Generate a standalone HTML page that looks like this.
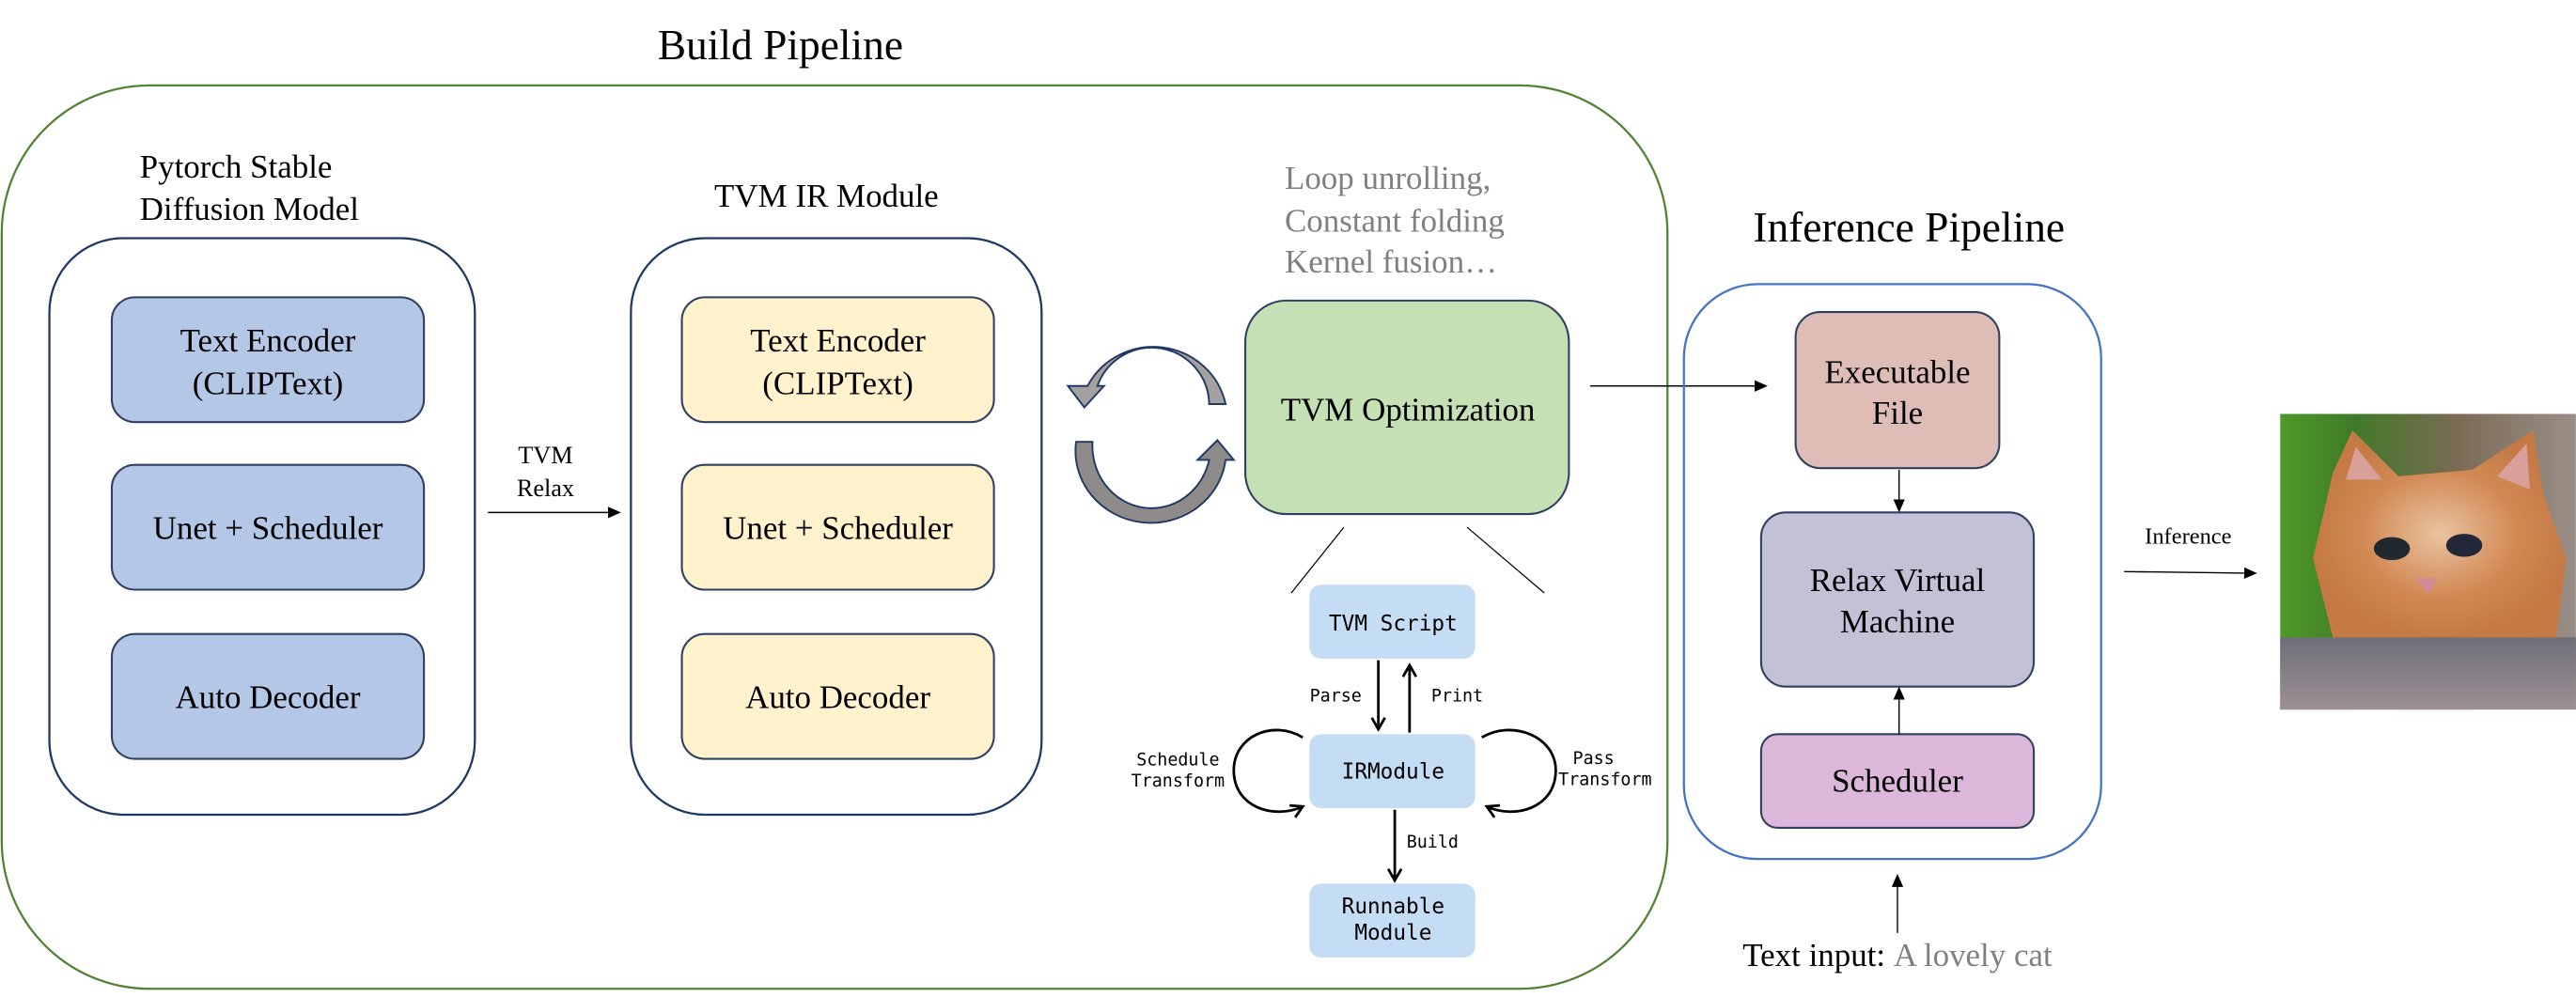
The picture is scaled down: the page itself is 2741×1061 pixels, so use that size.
<!DOCTYPE html>
<html><head><meta charset="utf-8"><style>
html,body{margin:0;padding:0;background:#fff;}
svg{display:block;}
.s{font-family:"Liberation Serif",serif;}
.m{font-family:"DejaVu Sans Mono","Liberation Mono",monospace;}
</style></head><body>
<svg width="2741" height="1061" viewBox="0 0 1568 607" xmlns="http://www.w3.org/2000/svg">
<defs>
<marker id="ah" markerWidth="8" markerHeight="8" refX="7" refY="4" orient="auto" markerUnits="userSpaceOnUse"><path d="M0,0.5 L8,4 L0,7.5 Z" fill="#000"/></marker>
<marker id="ab" markerWidth="10" markerHeight="10" refX="8" refY="5" orient="auto" markerUnits="userSpaceOnUse"><path d="M1,1 L8,5 L1,9" fill="none" stroke="#000" stroke-width="1.6"/></marker>
<linearGradient id="bg" x1="0" x2="1" y1="0" y2="0"><stop offset="0" stop-color="#4f9a2a"/><stop offset="0.25" stop-color="#3f7a28"/><stop offset="0.6" stop-color="#7b6a55"/><stop offset="1" stop-color="#9a8f88"/></linearGradient>
<radialGradient id="cat" cx="0.5" cy="0.5" r="0.5"><stop offset="0" stop-color="#e9c3a0"/><stop offset="0.6" stop-color="#d28a55"/><stop offset="1" stop-color="#c57a45"/></radialGradient>
<linearGradient id="tb" x1="0" x2="0" y1="0" y2="1"><stop offset="0" stop-color="#6e6f78"/><stop offset="1" stop-color="#9b9094"/></linearGradient>
</defs>

<!-- Build pipeline -->
<text x="475" y="36" class="s" font-size="26" text-anchor="middle">Build Pipeline</text>
<rect x="1" y="52" width="1014" height="550" rx="90" ry="90" fill="none" stroke="#548235" stroke-width="1.3"/>

<!-- left module -->
<text x="85" y="108" class="s" font-size="20">Pytorch Stable</text>
<text x="85" y="134" class="s" font-size="20">Diffusion Model</text>
<rect x="30" y="145" width="259" height="351" rx="45" fill="none" stroke="#1f3864" stroke-width="1.3"/>
<g fill="#b4c7e7" stroke="#2f4060" stroke-width="1.2">
<rect x="68" y="181" width="190" height="76" rx="14"/>
<rect x="68" y="283" width="190" height="76" rx="14"/>
<rect x="68" y="386" width="190" height="76" rx="14"/>
</g>
<g class="s" font-size="20" text-anchor="middle">
<text x="163" y="214">Text Encoder</text><text x="163" y="240">(CLIPText)</text>
<text x="163" y="328">Unet + Scheduler</text>
<text x="163" y="431">Auto Decoder</text>
</g>

<text x="332" y="282" class="s" font-size="15" text-anchor="middle">TVM</text>
<text x="332" y="302" class="s" font-size="15" text-anchor="middle">Relax</text>
<line x1="297" y1="312" x2="377" y2="312" stroke="#000" stroke-width="0.9" marker-end="url(#ah)"/>

<!-- middle module -->
<text x="503" y="126" class="s" font-size="20" text-anchor="middle">TVM IR Module</text>
<rect x="384" y="145" width="250" height="351" rx="45" fill="none" stroke="#1f3864" stroke-width="1.3"/>
<g fill="#fff2cc" stroke="#2f4060" stroke-width="1.2">
<rect x="415" y="181" width="190" height="76" rx="14"/>
<rect x="415" y="283" width="190" height="76" rx="14"/>
<rect x="415" y="386" width="190" height="76" rx="14"/>
</g>
<g class="s" font-size="20" text-anchor="middle">
<text x="510" y="214">Text Encoder</text><text x="510" y="240">(CLIPText)</text>
<text x="510" y="328">Unet + Scheduler</text>
<text x="510" y="431">Auto Decoder</text>
</g>

<!-- circular arrows -->
<path d="M746,246 A45,44 0 0 0 662,235 L650,235 L660,248 L672,235 L668,235 A35,35 0 0 1 736,246 Z" fill="#a6a1a1" stroke="#1f3864" stroke-width="1.1"/>
<path d="M655,269 L665,269 A36,38 0 0 0 736,280 L729,280 L741,268 L751,280 L746,280 A45,43 0 0 1 655,269 Z" fill="#8f8b8b" stroke="#1f3864" stroke-width="1.1"/>

<!-- TVM optimization -->
<g class="s" font-size="20" fill="#808080">
<text x="782" y="115">Loop unrolling,</text>
<text x="782" y="141">Constant folding</text>
<text x="782" y="166">Kernel fusion…</text>
</g>
<rect x="758" y="183" width="197" height="130" rx="25" fill="#c5e0b4" stroke="#2f4060" stroke-width="1.2"/>
<text x="857" y="256" class="s" font-size="20" text-anchor="middle">TVM Optimization</text>
<line x1="818" y1="321" x2="786" y2="361" stroke="#000" stroke-width="0.7"/>
<line x1="893" y1="321" x2="940" y2="361" stroke="#000" stroke-width="0.7"/>

<g fill="#c5dcf5">
<rect x="797" y="356" width="101" height="45" rx="7"/>
<rect x="797" y="447" width="101" height="45" rx="7"/>
<rect x="797" y="538" width="101" height="45" rx="7"/>
</g>
<g class="m" text-anchor="middle" font-size="13">
<text x="848" y="384">TVM Script</text>
<text x="848" y="474">IRModule</text>
<text x="848" y="556">Runnable</text>
<text x="848" y="572">Module</text>
</g>
<g stroke="#000" stroke-width="1.6" fill="none">
<line x1="839" y1="402" x2="839" y2="444" marker-end="url(#ab)"/>
<line x1="858" y1="446" x2="858" y2="405" marker-end="url(#ab)"/>
<line x1="849" y1="493" x2="849" y2="536" marker-end="url(#ab)"/>
<path d="M902,449 C920,438 947,448 947,469 C947,492 922,499 905,491" marker-end="url(#ab)"/>
<path d="M793,449 C775,438 751,448 751,469 C751,492 776,499 793,491" marker-end="url(#ab)"/>
</g>
<g class="m" font-size="10.5" text-anchor="middle">
<text x="813" y="427">Parse</text>
<text x="887" y="427">Print</text>
<text x="872" y="516">Build</text>
<text x="717" y="466">Schedule</text>
<text x="717" y="479">Transform</text>
<text x="970" y="465">Pass</text>
<text x="977" y="478">Transform</text>
</g>

<!-- arrow to inference -->
<line x1="968" y1="235" x2="1075" y2="235" stroke="#000" stroke-width="0.9" marker-end="url(#ah)"/>

<!-- Inference pipeline -->
<text x="1162" y="147" class="s" font-size="26" text-anchor="middle">Inference Pipeline</text>
<rect x="1025" y="173" width="254" height="350" rx="45" fill="none" stroke="#4472c4" stroke-width="1.3"/>
<rect x="1093" y="190" width="124" height="95" rx="15" fill="#dfbdb7" stroke="#2f4060" stroke-width="1.2"/>
<rect x="1072" y="312" width="166" height="106" rx="15" fill="#c3c1d6" stroke="#2f4060" stroke-width="1.2"/>
<rect x="1072" y="447" width="166" height="57" rx="10" fill="#ddb7d9" stroke="#2f4060" stroke-width="1.2"/>
<g class="s" font-size="20" text-anchor="middle">
<text x="1155" y="233">Executable</text><text x="1155" y="258">File</text>
<text x="1155" y="360">Relax Virtual</text><text x="1155" y="385">Machine</text>
<text x="1155" y="482">Scheduler</text>
</g>
<line x1="1156" y1="286" x2="1156" y2="311" stroke="#000" stroke-width="0.8" marker-end="url(#ah)"/>
<line x1="1156" y1="447" x2="1156" y2="419" stroke="#000" stroke-width="0.8" marker-end="url(#ah)"/>
<line x1="1155" y1="568" x2="1155" y2="533" stroke="#000" stroke-width="0.8" marker-end="url(#ah)"/>
<text x="1155" y="588" class="s" font-size="20" text-anchor="middle">Text input: <tspan fill="#808080">A lovely cat</tspan></text>

<text x="1332" y="331" class="s" font-size="14" text-anchor="middle">Inference</text>
<line x1="1293" y1="348" x2="1373" y2="349" stroke="#000" stroke-width="0.8" marker-end="url(#ah)"/>

<!-- cat image -->
<rect x="1388" y="252" width="180" height="180" fill="url(#bg)"/>
<rect x="1388" y="388" width="180" height="44" fill="url(#tb)"/>
<path d="M1420,288 L1432,262 L1460,290 L1505,286 L1542,262 L1548,300 L1562,340 L1556,388 L1420,388 L1408,340 Z" fill="url(#cat)"/>
<path d="M1428,292 L1434,272 L1450,292 Z" fill="#d9a09a"/>
<path d="M1520,290 L1538,270 L1540,298 Z" fill="#d9a09a"/>
<ellipse cx="1456" cy="334" rx="11" ry="7" fill="#222830"/>
<ellipse cx="1500" cy="332" rx="11" ry="7" fill="#222838"/>
<path d="M1470,352 L1484,352 L1478,362 Z" fill="#d28a96"/>
</svg>
</body></html>
